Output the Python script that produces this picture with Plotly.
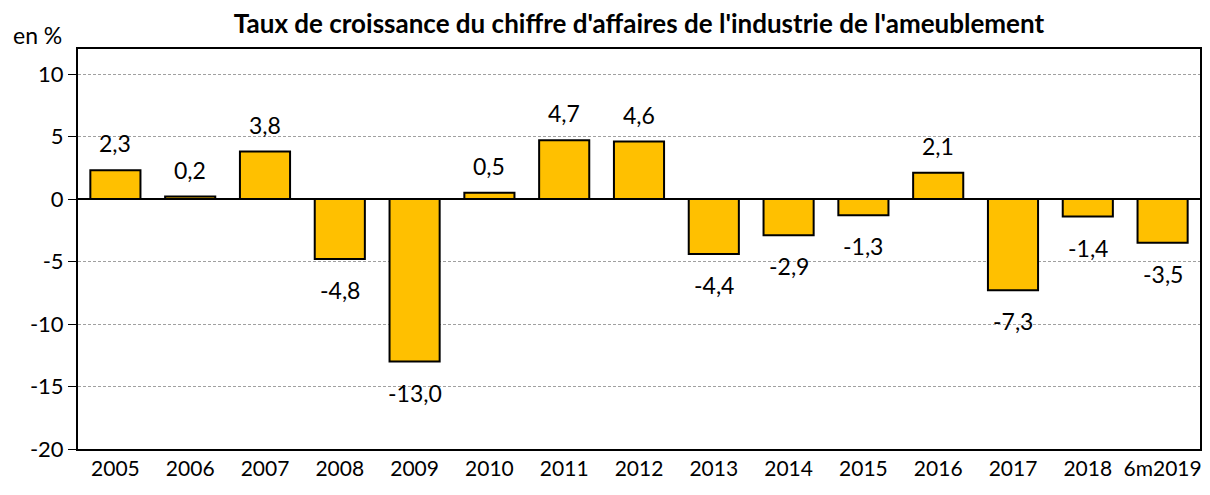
import plotly.graph_objects as go

categories = ["2005", "2006", "2007", "2008", "2009", "2010", "2011", "2012",
              "2013", "2014", "2015", "2016", "2017", "2018", "6m2019"]
values = [2.3, 0.2, 3.8, -4.8, -13.0, 0.5, 4.7, 4.6, -4.4, -2.9, -1.3, 2.1, -7.3, -1.4, -3.5]
labels = [f"{v:.1f}".replace(".", ",") for v in values]
y_ticks = [-20, -15, -10, -5, 0, 5, 10]

FONT = "Lato, Carlito, 'Liberation Sans', sans-serif"

fig = go.Figure()
fig.add_trace(go.Bar(
    x=categories, y=values,
    marker=dict(color="#FFC000", line=dict(color="black", width=2)),
    width=0.67, hoverinfo="skip",
))

# category axis: position i is the i-th category
for i, (v, lab) in enumerate(zip(values, labels)):
    fig.add_annotation(x=i, y=v, text=lab, showarrow=False,
                       xref="x", yref="y", yanchor="middle",
                       yshift=27 if v >= 0 else -31,
                       font=dict(size=23, family=FONT, color="black"))

fig.update_layout(
    width=1210, height=495,
    margin=dict(l=70, r=18, t=41, b=54),
    plot_bgcolor="white", paper_bgcolor="white",
    font=dict(family=FONT, size=21, color="black"),
    showlegend=False,
    title=dict(text="<b>Taux de croissance du chiffre d'affaires de l'industrie de l'ameublement</b>",
               x=0.5, xanchor="center", xref="paper", y=1.0, yref="container",
               yanchor="top", pad=dict(t=7),
               font=dict(size=26, family=FONT, color="black")),
    xaxis=dict(type="category", tickangle=0, showgrid=False, showline=True,
               linecolor="black", linewidth=2, mirror=True, ticks="",
               tickfont=dict(size=21), automargin=False,
               range=[-0.5, len(categories) - 0.5]),
    yaxis=dict(range=[-20, 12], tickvals=y_ticks, ticktext=[str(t) for t in y_ticks],
               showgrid=True, gridcolor="#a0a0a0", griddash="3px,2px", gridwidth=1,
               zeroline=True, zerolinecolor="black", zerolinewidth=1.5,
               showline=True, linecolor="black", linewidth=2, mirror=True,
               ticks="outside", ticklen=8, tickcolor="black", tickwidth=1,
               tickfont=dict(size=22), automargin=False),
)
fig.add_annotation(text="en %", xref="paper", yref="paper", x=-0.06, y=1.035,
                   xanchor="left", yanchor="middle", showarrow=False,
                   font=dict(size=23, family=FONT, color="black"))
fig.write_html("out.html")
